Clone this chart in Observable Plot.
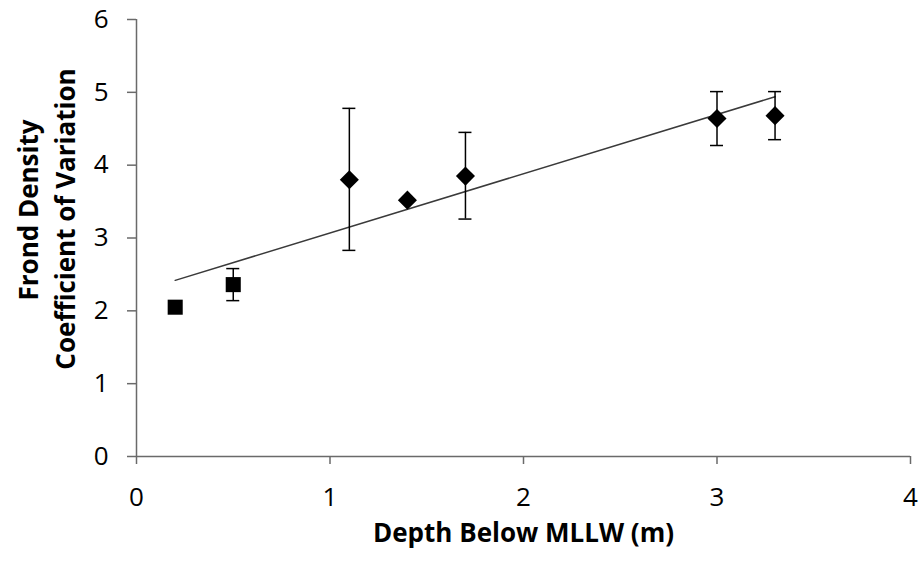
<!DOCTYPE html>
<html><head><meta charset="utf-8">
<script src="https://cdn.jsdelivr.net/npm/d3@7"></script>
<script src="https://cdn.jsdelivr.net/npm/@observablehq/plot@0.6"></script>
<style>body{margin:0;background:#fff}</style>
</head><body><div id="chart"></div>
<script>
const depth = [0.2, 0.5, 1.1, 1.4, 1.7, 3.0, 3.3];
const cv = [2.05, 2.36, 3.80, 3.52, 3.85, 4.64, 4.68];
const cvLow = [null, 2.14, 2.83, null, 3.26, 4.27, 4.35];
const cvHigh = [null, 2.58, 4.78, null, 4.45, 5.01, 5.01];
const marker = ["square", "square", "diamond", "diamond", "diamond", "diamond", "diamond"];
const xTicks = [0, 1, 2, 3, 4];
const yTicks = [0, 1, 2, 3, 4, 5, 6];
const xTitle = "Depth Below MLLW (m)";
const yTitle1 = "Frond Density";
const yTitle2 = "Coefficient of Variation";

const data = depth.map((d, i) => ({depth: d, cv: cv[i], lo: cvLow[i], hi: cvHigh[i], marker: marker[i]}));
const errs = data.filter(d => d.lo != null);
const axisColor = "#6a6a6a";

const chart = Plot.plot({
  width: 924,
  height: 561,
  marginLeft: 136,
  marginRight: 14,
  marginTop: 19,
  marginBottom: 105,
  style: {fontFamily: "'Open Sans', sans-serif", background: "#fff", color: "#000"},
  x: {domain: [0, 4]},
  y: {domain: [0, 6]},
  marks: [
    Plot.ruleX([0], {y1: 0, y2: 6, stroke: axisColor, strokeWidth: 1.5}),
    Plot.ruleY([0], {x1: 0, x2: 4, stroke: axisColor, strokeWidth: 1.5}),
    Plot.axisY({ticks: yTicks, tickSize: 9, tickPadding: 19, fontSize: 26, label: null, stroke: axisColor, strokeWidth: 1.5, fill: "#000", tickFormat: d => String(d)}),
    Plot.axisX({ticks: xTicks, tickSize: 8, tickPadding: 23, fontSize: 26, label: null, stroke: axisColor, strokeWidth: 1.5, fill: "#000", tickFormat: d => String(d)}),
    Plot.linearRegressionY(data, {x: "depth", y: "cv", ci: 0, stroke: "#3a3a3a", strokeWidth: 1.5}),
    Plot.ruleX(errs, {x: "depth", y1: "lo", y2: "hi", stroke: "#000", strokeWidth: 1.5}),
    Plot.ruleY(errs, {y: "lo", x1: "depth", x2: "depth", insetLeft: -6.5, insetRight: -6.5, stroke: "#000", strokeWidth: 1.5}),
    Plot.ruleY(errs, {y: "hi", x1: "depth", x2: "depth", insetLeft: -6.5, insetRight: -6.5, stroke: "#000", strokeWidth: 1.5}),
    Plot.dot(data.filter(d => d.marker === "square"), {x: "depth", y: "cv", symbol: "square", r: 8.5, fill: "#000", stroke: "none"}),
    Plot.dot(data.filter(d => d.marker === "diamond"), {x: "depth", y: "cv", symbol: "diamond2", r: 8.6, fill: "#000", stroke: "none"}),
    Plot.text([xTitle], {frameAnchor: "bottom", textAnchor: "middle", dy: 85, fontSize: 26, fontWeight: "bold", fill: "#000"}),
    Plot.text([yTitle1], {frameAnchor: "left", textAnchor: "middle", dx: -107, dy: -28, rotate: -90, fontSize: 26, fontWeight: "bold", fill: "#000"}),
    Plot.text([yTitle2], {frameAnchor: "left", textAnchor: "middle", dx: -70, dy: -19, rotate: -90, fontSize: 26, fontWeight: "bold", fill: "#000"})
  ]
});
document.getElementById("chart").appendChild(chart);
</script>
</body></html>
